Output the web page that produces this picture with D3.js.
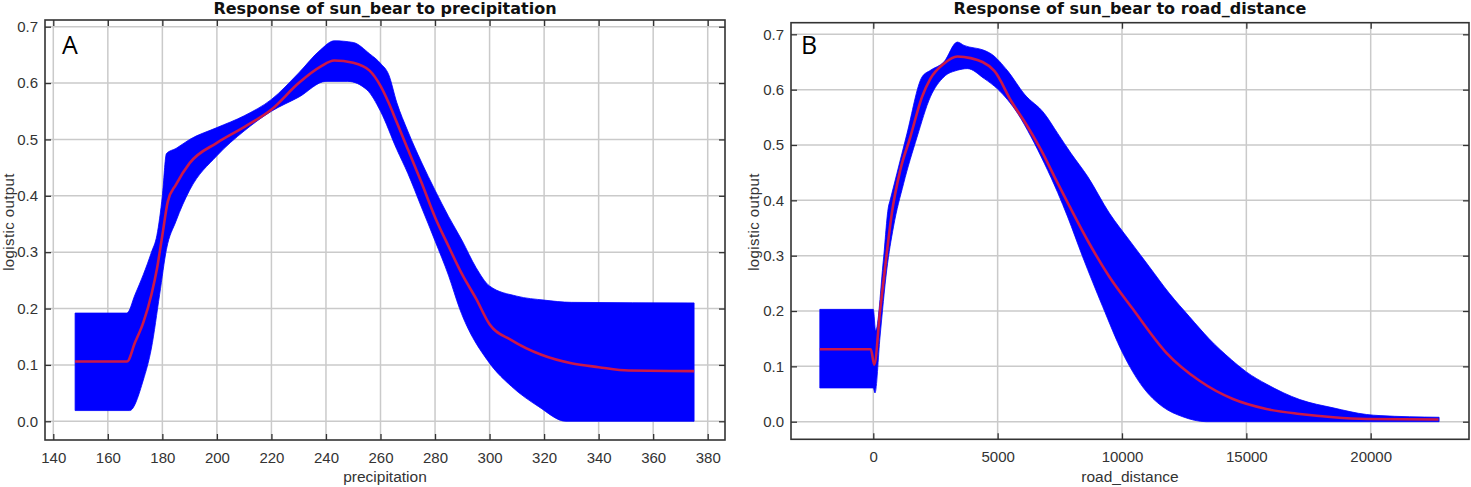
<!DOCTYPE html>
<html>
<head>
<meta charset="utf-8">
<script src="https://cdn.jsdelivr.net/npm/d3@7"></script>
<style>
   body { margin: 0; background: #fff; }
   svg { display: block; font-family: 'Liberation Sans', Arial, sans-serif; }
</style>
</head>
<body>
<svg id="chart"></svg>
<script>
// ---- data ([x, value]) ----
const precipTicks = [140, 160, 180, 200, 220, 240, 260, 280, 300, 320, 340, 360, 380];
const roadTicks = [0, 5000, 10000, 15000, 20000];
const yTicks = [0, 0.1, 0.2, 0.3, 0.4, 0.5, 0.6, 0.7];

const precipMean = [
   [148, 0.106], [167, 0.106], [170, 0.14], [173, 0.175], [176, 0.225], [178, 0.27],
   [180, 0.33], [182, 0.39], [185, 0.42], [190, 0.458], [200, 0.494], [210, 0.522],
   [220, 0.553], [230, 0.6], [238, 0.629], [243, 0.64], [250, 0.636], [256, 0.622],
   [260, 0.595], [263, 0.565], [266, 0.53], [270, 0.483], [275, 0.424], [280, 0.362],
   [285, 0.31], [290, 0.26], [295, 0.218], [300, 0.172], [308, 0.144], [319, 0.118],
   [330, 0.103], [340, 0.096], [351, 0.09], [375, 0.089],
];
const precipUpper = [
   [148, 0.192], [167, 0.192], [170, 0.225], [173, 0.26], [176, 0.3], [178, 0.33],
   [180, 0.4], [181.5, 0.475], [185, 0.484], [190, 0.5], [200, 0.521], [210, 0.542],
   [220, 0.571], [230, 0.618], [238, 0.659], [243, 0.675], [250, 0.672], [256, 0.652],
   [260, 0.635], [263, 0.615], [266, 0.565], [270, 0.515], [275, 0.46], [280, 0.41],
   [285, 0.363], [290, 0.32], [295, 0.273], [300, 0.24], [310, 0.222], [320, 0.215],
   [330, 0.211], [375, 0.21],
];
const precipLower = [
   [148, 0.019], [168, 0.019], [173, 0.073], [176, 0.13], [179, 0.225], [181.5, 0.305],
   [185, 0.355], [190, 0.41], [200, 0.471], [210, 0.515], [220, 0.55], [230, 0.575],
   [240, 0.603], [248, 0.603], [255, 0.588], [260, 0.55], [266, 0.482], [270, 0.44],
   [275, 0.38], [280, 0.32], [285, 0.258], [289, 0.2], [300, 0.103], [308, 0.062],
   [318, 0.026], [328, 0], [375, 0],
];

const roadMean = [
   [-2150, 0.131], [-100, 0.131], [40, 0.103], [270, 0.2], [540, 0.304], [743, 0.376],
   [1081, 0.454], [1486, 0.514], [1960, 0.587], [2297, 0.62], [2838, 0.647],
   [3378, 0.66], [3919, 0.657], [4866, 0.634], [5536, 0.58], [6207, 0.533],
   [6743, 0.491], [7280, 0.443], [7882, 0.39], [8686, 0.322], [9491, 0.262],
   [10430, 0.204], [11774, 0.125], [13118, 0.074], [14462, 0.041], [15806, 0.023],
   [17151, 0.014], [18495, 0.008], [19839, 0.005], [22730, 0.004],
];
const roadUpper = [
   [-2150, 0.203], [0, 0.203], [94, 0.164], [405, 0.292], [608, 0.388], [676, 0.4],
   [946, 0.448], [1351, 0.52], [1960, 0.623], [2297, 0.635], [2838, 0.65],
   [3378, 0.686], [3649, 0.68], [4459, 0.671], [4730, 0.665], [5402, 0.634],
   [6073, 0.592], [6877, 0.557], [7414, 0.521], [7950, 0.485], [8621, 0.443],
   [9491, 0.377], [10295, 0.328], [11099, 0.28], [11903, 0.232], [12708, 0.19],
   [13500, 0.15], [14400, 0.112], [15000, 0.09], [15806, 0.068], [17151, 0.04],
   [18495, 0.025], [19839, 0.013], [20376, 0.011], [22750, 0.008],
];
const roadLower = [
   [-2150, 0.061], [0, 0.061], [68, 0.052], [270, 0.153], [540, 0.274], [811, 0.352],
   [1216, 0.43], [1757, 0.514], [2297, 0.587], [2838, 0.623], [3378, 0.635],
   [3784, 0.638], [4459, 0.62], [5000, 0.601], [5805, 0.557], [6341, 0.515],
   [6877, 0.467], [7414, 0.414], [7816, 0.37], [8418, 0.298], [9223, 0.208],
   [10027, 0.124], [10831, 0.063], [11635, 0.027], [12440, 0.009], [13387, 0],
   [22750, 0],
];

class ResponsePlot {
   constructor(_config, _data) {
      this.config = {
         parent: _config.parent,
         left: _config.left,
         top: _config.top,
         width: _config.width,
         height: _config.height,
         xDomain: _config.xDomain,
         yDomain: _config.yDomain,
         xTicks: _config.xTicks,
         title: _config.title,
         xLabel: _config.xLabel,
         yLabelX: _config.yLabelX,
         letter: _config.letter,
         letterX: _config.letterX,
      };
      this.data = _data;
      this.initVis();
   }

   initVis() {
      const c = this.config;
      this.g = c.parent
         .append('g')
         .attr('transform', `translate(${c.left}, ${c.top})`);

      this.xScale = d3.scaleLinear().domain(c.xDomain).range([0, c.width]);
      this.yScale = d3.scaleLinear().domain(c.yDomain).range([c.height, 0]);

      // grid
      this.g.append('g')
         .selectAll('line')
         .data(c.xTicks)
         .join('line')
         .attr('x1', (d) => this.xScale(d))
         .attr('x2', (d) => this.xScale(d))
         .attr('y1', 0)
         .attr('y2', c.height)
         .attr('stroke', '#cacaca')
         .attr('stroke-width', 1.5);

      this.g.append('g')
         .selectAll('line')
         .data(yTicks)
         .join('line')
         .attr('x1', 0)
         .attr('x2', c.width)
         .attr('y1', (d) => this.yScale(d))
         .attr('y2', (d) => this.yScale(d))
         .attr('stroke', '#cacaca')
         .attr('stroke-width', 1.5);

      this.updateVis();

      // axes, ticks pointing inward
      const fmtY = d3.format('.1f');
      const xb = this.g.append('g')
         .attr('transform', `translate(0, ${c.height})`)
         .call(d3.axisBottom(this.xScale).tickValues(c.xTicks).tickSize(-6).tickPadding(12).tickFormat(d3.format('d')));
      const xt = this.g.append('g')
         .call(d3.axisTop(this.xScale).tickValues(c.xTicks).tickSize(-6).tickFormat(''));
      const yl = this.g.append('g')
         .call(d3.axisLeft(this.yScale).tickValues(yTicks).tickSize(-6).tickPadding(7).tickFormat(fmtY));
      const yr = this.g.append('g')
         .attr('transform', `translate(${c.width}, 0)`)
         .call(d3.axisRight(this.yScale).tickValues(yTicks).tickSize(-6).tickFormat(''));

      [xb, xt, yl, yr].forEach((ax) => {
         ax.select('.domain').remove();
         ax.selectAll('line').attr('stroke', '#333').attr('stroke-width', 1.3);
         ax.selectAll('text')
            .attr('fill', '#333')
            .style('font-size', '15px');
      });

      // frame
      this.g.append('rect')
         .attr('width', c.width)
         .attr('height', c.height)
         .attr('fill', 'none')
         .attr('stroke', '#333')
         .attr('stroke-width', 1.6);

      // texts
      this.g.append('text')
         .attr('x', c.width / 2)
         .attr('y', -c.top + 14)
         .attr('text-anchor', 'middle')
         .style('font-family', "'DejaVu Sans', sans-serif")
         .style('font-size', '16px')
         .style('font-weight', 'bold')
         .attr('fill', '#111')
         .text(c.title);

      this.g.append('text')
         .attr('x', c.width / 2)
         .attr('y', 482 - c.top)
         .attr('text-anchor', 'middle')
         .style('font-size', '15.5px')
         .attr('fill', '#333')
         .text(c.xLabel);

      this.g.append('text')
         .attr('transform', `translate(${c.yLabelX - c.left}, ${222 - c.top}) rotate(-90)`)
         .attr('text-anchor', 'middle')
         .style('font-size', '15px')
         .style('letter-spacing', '0.4px')
         .attr('fill', '#333')
         .text('logistic output');

      this.g.append('text')
         .attr('x', c.letterX)
         .attr('y', 54 - c.top)
         .style('font-family', "'Open Sans', sans-serif")
         .style('font-size', '25px')
         .attr('fill', '#000')
         .text(c.letter);
   }

   updateVis() {
      const line = d3.line()
         .x((d) => this.xScale(d[0]))
         .y((d) => this.yScale(d[1]))
         .curve(d3.curveMonotoneX);

      const upperPath = line(this.data.upper);
      const lowerPath = line(this.data.lower.slice().reverse());
      this.g.append('path')
         .attr('d', upperPath + 'L' + lowerPath.slice(1) + 'Z')
         .attr('fill', '#0000ff')
         .attr('stroke', '#0000ff')
         .attr('stroke-width', 0.8);

      this.g.append('path')
         .datum(this.data.mean)
         .attr('d', line)
         .attr('fill', 'none')
         .attr('stroke', '#cc1848')
         .attr('stroke-width', 2.6);
   }
}

const svg = d3.select('#chart').attr('width', 1471).attr('height', 487);

new ResponsePlot({
   parent: svg,
   left: 45, top: 20, width: 680, height: 420,
   xDomain: [136.96, 386.34],
   yDomain: [-0.0332, 0.7119],
   xTicks: precipTicks,
   title: 'Response of sun_bear to precipitation',
   xLabel: 'precipitation',
   yLabelX: 14,
   letter: 'A',
   letterX: 17,
}, { mean: precipMean, upper: precipUpper, lower: precipLower });

new ResponsePlot({
   parent: svg,
   left: 791, top: 22.7, width: 678, height: 416.6,
   xDomain: [-3309, 23953],
   yDomain: [-0.0318, 0.721],
   xTicks: roadTicks,
   title: 'Response of sun_bear to road_distance',
   xLabel: 'road_distance',
   yLabelX: 759,
   letter: 'B',
   letterX: 10,
}, { mean: roadMean, upper: roadUpper, lower: roadLower });
</script>
</body>
</html>
